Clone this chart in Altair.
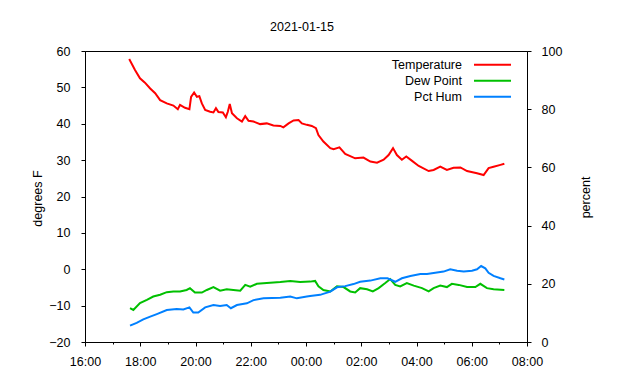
import altair as alt
import pandas as pd

# time in decimal hours from 00:00 on 2021-01-15 (24+ = next day)
temp_time = [17.60, 17.81, 17.99, 18.17, 18.36, 18.54, 18.72, 18.96, 19.20, 19.36, 19.44, 19.62,
             19.78, 19.84, 19.95, 20.05, 20.14, 20.23, 20.35, 20.53, 20.65, 20.74, 20.83, 20.99,
             21.10, 21.17, 21.24, 21.32, 21.50, 21.68, 21.80, 21.92, 22.10, 22.34, 22.58, 22.82,
             23.07, 23.18, 23.37, 23.55, 23.73, 23.85, 24.03, 24.21, 24.36, 24.45, 24.63, 24.88,
             25.00, 25.21, 25.42, 25.78, 26.08, 26.33, 26.57, 26.81, 26.99, 27.15, 27.29, 27.47,
             27.63, 27.84, 28.08, 28.44, 28.62, 28.86, 29.10, 29.34, 29.59, 29.83, 30.19, 30.43,
             30.61, 30.79, 31.04, 31.18]
temp_vals = [57.8, 54.8, 52.5, 51.3, 49.7, 48.4, 46.5, 45.6, 45.0, 44.0, 45.2, 44.4,
             44.0, 47.4, 48.6, 47.4, 47.6, 45.6, 43.8, 43.3, 43.1, 44.3, 43.2, 43.1,
             41.8, 43.3, 45.4, 42.9, 41.5, 40.6, 42.1, 40.8, 40.6, 39.9, 40.1, 39.5,
             39.4, 39.0, 40.1, 40.9, 41.0, 40.1, 39.7, 39.4, 38.8, 36.9, 35.1, 33.3,
             33.0, 33.5, 31.7, 30.5, 30.7, 29.6, 29.3, 30.1, 31.4, 33.3, 31.4, 30.1,
             31.0, 29.8, 28.4, 27.0, 27.3, 28.2, 27.3, 27.9, 28.0, 27.0, 26.4, 25.9,
             27.8, 28.2, 28.7, 29.0]

dew_time = [17.63, 17.75, 17.99, 18.24, 18.47, 18.72, 18.96, 19.20, 19.44, 19.68, 19.80, 19.98,
            20.23, 20.41, 20.65, 20.89, 21.13, 21.37, 21.62, 21.80, 21.98, 22.22, 22.58, 23.07,
            23.43, 23.79, 24.15, 24.33, 24.45, 24.63, 24.88, 25.12, 25.36, 25.60, 25.78, 25.96,
            26.21, 26.42, 26.63, 26.87, 27.05, 27.23, 27.41, 27.65, 27.90, 28.20, 28.44, 28.62,
            28.86, 29.10, 29.28, 29.53, 29.83, 30.13, 30.31, 30.55, 30.79, 31.18]
dew_vals = [-10.7, -11.2, -9.3, -8.4, -7.5, -7.0, -6.3, -6.1, -6.1, -5.7, -5.2, -6.4,
            -6.4, -5.7, -4.9, -5.9, -5.5, -5.7, -5.9, -4.3, -4.8, -4.0, -3.8, -3.5,
            -3.2, -3.5, -3.4, -3.2, -4.7, -5.7, -6.1, -4.7, -4.9, -6.1, -6.4, -5.2,
            -5.5, -6.1, -5.2, -3.8, -2.7, -4.3, -4.7, -3.8, -4.5, -5.2, -6.1, -5.2,
            -4.5, -4.9, -4.0, -4.3, -4.9, -4.9, -4.0, -5.2, -5.5, -5.7]

hum_time = [17.63, 17.87, 18.11, 18.36, 18.60, 18.96, 19.32, 19.56, 19.78, 19.92, 20.10, 20.35,
            20.65, 20.89, 21.13, 21.28, 21.50, 21.86, 22.10, 22.46, 23.07, 23.43, 23.67, 24.03,
            24.15, 24.51, 24.88, 25.12, 25.42, 25.72, 25.96, 26.33, 26.69, 26.95, 27.23, 27.47,
            27.78, 28.14, 28.38, 28.68, 28.98, 29.22, 29.47, 29.71, 30.01, 30.19, 30.34, 30.49,
            30.61, 30.79, 31.04, 31.18]
hum_vals = [5.6, 6.6, 7.8, 8.7, 9.6, 11.0, 11.3, 11.2, 11.9, 10.1, 10.1, 11.9,
            12.7, 12.4, 12.7, 11.6, 12.7, 13.3, 14.4, 15.0, 15.2, 15.6, 15.0, 15.6,
            15.8, 16.2, 17.3, 18.8, 19.2, 19.9, 20.7, 21.1, 21.9, 21.9, 20.7, 21.9,
            22.7, 23.4, 23.4, 23.8, 24.2, 25.0, 24.5, 24.2, 24.5, 25.0, 26.1, 25.3,
            23.8, 22.7, 21.9, 21.5]

series_names = ["Temperature", "Dew Point", "Pct Hum"]
series_colors = ["#ff0000", "#00c000", "#0080ff"]
x_ticks = list(range(16, 33))
left_ticks = [-20, -10, 0, 10, 20, 30, 40, 50, 60]
right_ticks = [0, 20, 40, 60, 80, 100]

FONT = "Liberation Sans"
FS = 12.5

df_left = pd.concat([
    pd.DataFrame({"time": temp_time, "value": temp_vals, "series": series_names[0]}),
    pd.DataFrame({"time": dew_time, "value": dew_vals, "series": series_names[1]}),
])
df_right = pd.DataFrame({"time": hum_time, "value": hum_vals, "series": series_names[2]})

# legend: label on the left (right-aligned), line sample on the right
color = alt.Color(
    "series:N",
    scale=alt.Scale(domain=series_names, range=series_colors),
    legend=alt.Legend(
        title=None, orient="none", legendX=382.75, legendY=7.4, padding=0,
        symbolType="M0,0H8", symbolSize=85.6, symbolStrokeWidth=2,
        symbolFillColor="transparent",
        labelAlign="right", labelBaseline="middle", labelOffset=alt.ExprRef(expr="-18.25"),
        labelFont=FONT, labelFontSize=FS, labelColor="#000000", labelLimit=0,
        rowPadding=3,
    ),
)

x = alt.X(
    "time:Q",
    scale=alt.Scale(domain=[16, 32], nice=False, zero=False),
    axis=alt.Axis(
        values=x_ticks, title=None, grid=False,
        labelExpr="datum.value % 2 == 0 ? ((datum.value % 24 < 10 ? '0' : '') + (datum.value % 24) + ':00') : ''",
        tickSize={"condition": {"test": "datum.value % 2 == 0", "value": 4}, "value": 2},
        labelPadding=9, labelFont=FONT, labelFontSize=FS, labelColor="#000000",
        domainColor="#000000", tickColor="#000000", labelFlush=False, labelOverlap=False,
    ),
)

left = alt.Chart(df_left).mark_line(strokeWidth=2).encode(
    x=x,
    y=alt.Y(
        "value:Q",
        scale=alt.Scale(domain=[-20, 60], nice=False, zero=False),
        axis=alt.Axis(
            values=left_ticks, title="degrees F", grid=False, tickSize=4, labelPadding=11,
            labelFont=FONT, labelFontSize=FS, labelColor="#000000",
            titleFont=FONT, titleFontSize=FS, titleFontWeight="normal", titleColor="#000000",
            titleX=-48, titleY=147, titleAngle=270, titleAlign="center", titleBaseline="middle",
            domainColor="#000000", tickColor="#000000", labelFlush=False,
        ),
    ),
    color=color,
)

right = alt.Chart(df_right).mark_line(strokeWidth=2).encode(
    x=x,
    y=alt.Y(
        "value:Q",
        scale=alt.Scale(domain=[0, 100], nice=False, zero=False),
        axis=alt.Axis(
            orient="right", values=right_ticks, title="percent", grid=False, tickSize=4,
            labelPadding=10, labelFont=FONT, labelFontSize=FS, labelColor="#000000",
            titleFont=FONT, titleFontSize=FS, titleFontWeight="normal", titleColor="#000000",
            titleX=58, titleY=146, titleAngle=270, titleAlign="center", titleBaseline="middle",
            domainColor="#000000", tickColor="#000000", labelFlush=False,
        ),
    ),
    color=color,
)

chart = (
    alt.layer(left, right)
    .resolve_scale(y="independent")
    .properties(
        width=442, height=291,
        title=alt.Title("2021-01-15", font=FONT, fontSize=FS, fontWeight="normal",
                        color="#000000", anchor="middle", dx=-4, dy=11, offset=13,
                        baseline="alphabetic"),
        autosize=alt.AutoSizeParams(type="none"),
        padding={"left": 77, "top": 43, "right": 100, "bottom": 28},
        background="white",
    )
    .configure_view(stroke="#000000", strokeWidth=1)
)

chart.save("out.html", embed_options={"renderer": "svg", "actions": False})
